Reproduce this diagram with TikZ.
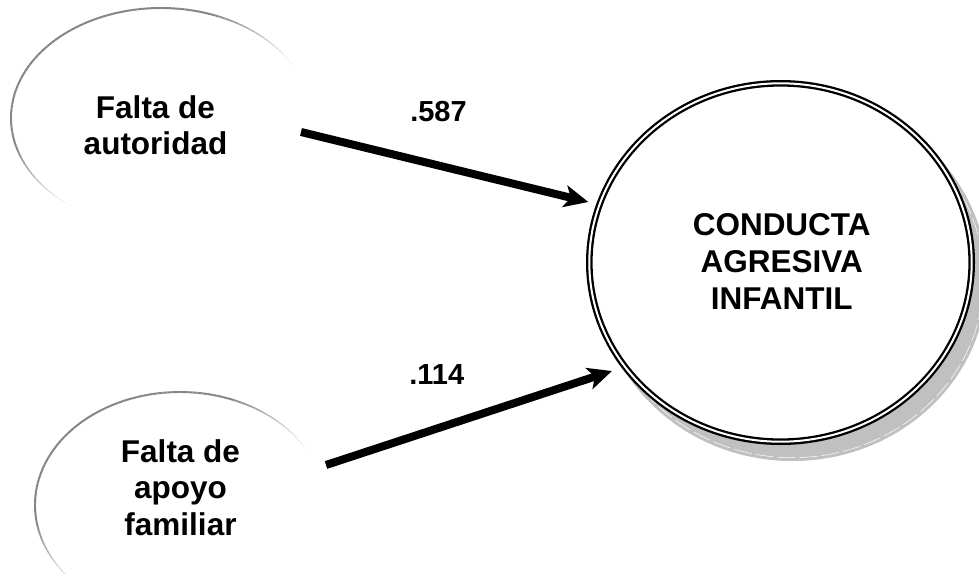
\documentclass[tikz,border=0pt]{standalone}
\usepackage{fontspec}
\setmainfont{Liberation Sans}
\usetikzlibrary{arrows.meta}
\definecolor{shadowgray}{HTML}{C0C0C0}
\tikzset{
  txt/.style={font=\bfseries\fontsize{31.5}{36.8}\selectfont, align=center, inner sep=0pt, text=black},
  lbl/.style={font=\bfseries\fontsize{29}{34}\selectfont, inner sep=0pt, text=black},
  patharrow/.style={line width=8pt, draw=black, -{Stealth[length=24pt, width=22pt, inset=6pt]}},
  bigcircle/.style={ellipse, minimum width=382.4pt, minimum height=358.4pt, inner sep=0pt,
     draw=black, fill=white, line width=2.3pt, double=white, double distance=2pt}
}
\usetikzlibrary{shapes.geometric}
\begin{document}
\begin{tikzpicture}[x=1pt,y=-1pt]
\useasboundingbox (0,0) rectangle (979,573);

% fading outlines of the two left ellipses
\foreach \cx/\cy/\rx/\ry/\ta/\tb/\pa/\pb in {161/118/150/110/25/235/70/195, 180/505/145/113/25/228/70/190}{
  \pgfmathtruncatemacro\n{(\tb-\ta)/2}
  \foreach \i in {0,...,\n}{
    \pgfmathsetmacro\t{\ta+2*\i}
    \pgfmathsetmacro\f{max(0,min(1,min((\t+1-\ta)/(\pa-\ta),(\tb-\t-1)/(\tb-\pb))))}
    \pgfmathtruncatemacro\g{48*\f}
    \pgfmathsetmacro\lw{0.4+1.6*\f}
    \draw[line width=\lw pt, draw=black!\g]
      ({\cx+\rx*cos(\t)},{\cy-\ry*sin(\t)}) -- ({\cx+\rx*cos(\t+2)},{\cy-\ry*sin(\t+2)});
  }
}

\node[txt] (fa) at (155.5,125.2) {Falta de\\autoridad};
\node[txt] (fb) at (180.5,487.7) {Falta de\\apoyo\\familiar};

% shadow of the big circle
\fill[shadowgray] (792.5,278.5) ellipse [x radius=194.5pt, y radius=182.5pt];
\draw[white, line width=0.5pt, dash pattern=on 18pt off 4pt] (792.5,278.5) ellipse [x radius=191.2pt, y radius=179.2pt];

\node[bigcircle] (cai) at (780.5,262.5) {};
\node[txt] (caitext) at (781.7,261.2) {CONDUCTA\\AGRESIVA\\INFANTIL};

% arrows
\coordinate (a1s) at (301,132);
\coordinate (a1e) at (588.3,202);
\coordinate (a2s) at (326,465);
\coordinate (a2e) at (612,371);
\draw[patharrow] (a1s) -- (a1e);
\draw[patharrow] (a2s) -- (a2e);

\node[lbl] (l1) at (438.5,111.7) {.587};
\node[lbl] (l2) at (436.7,374.5) {.114};
\end{tikzpicture}
\end{document}
